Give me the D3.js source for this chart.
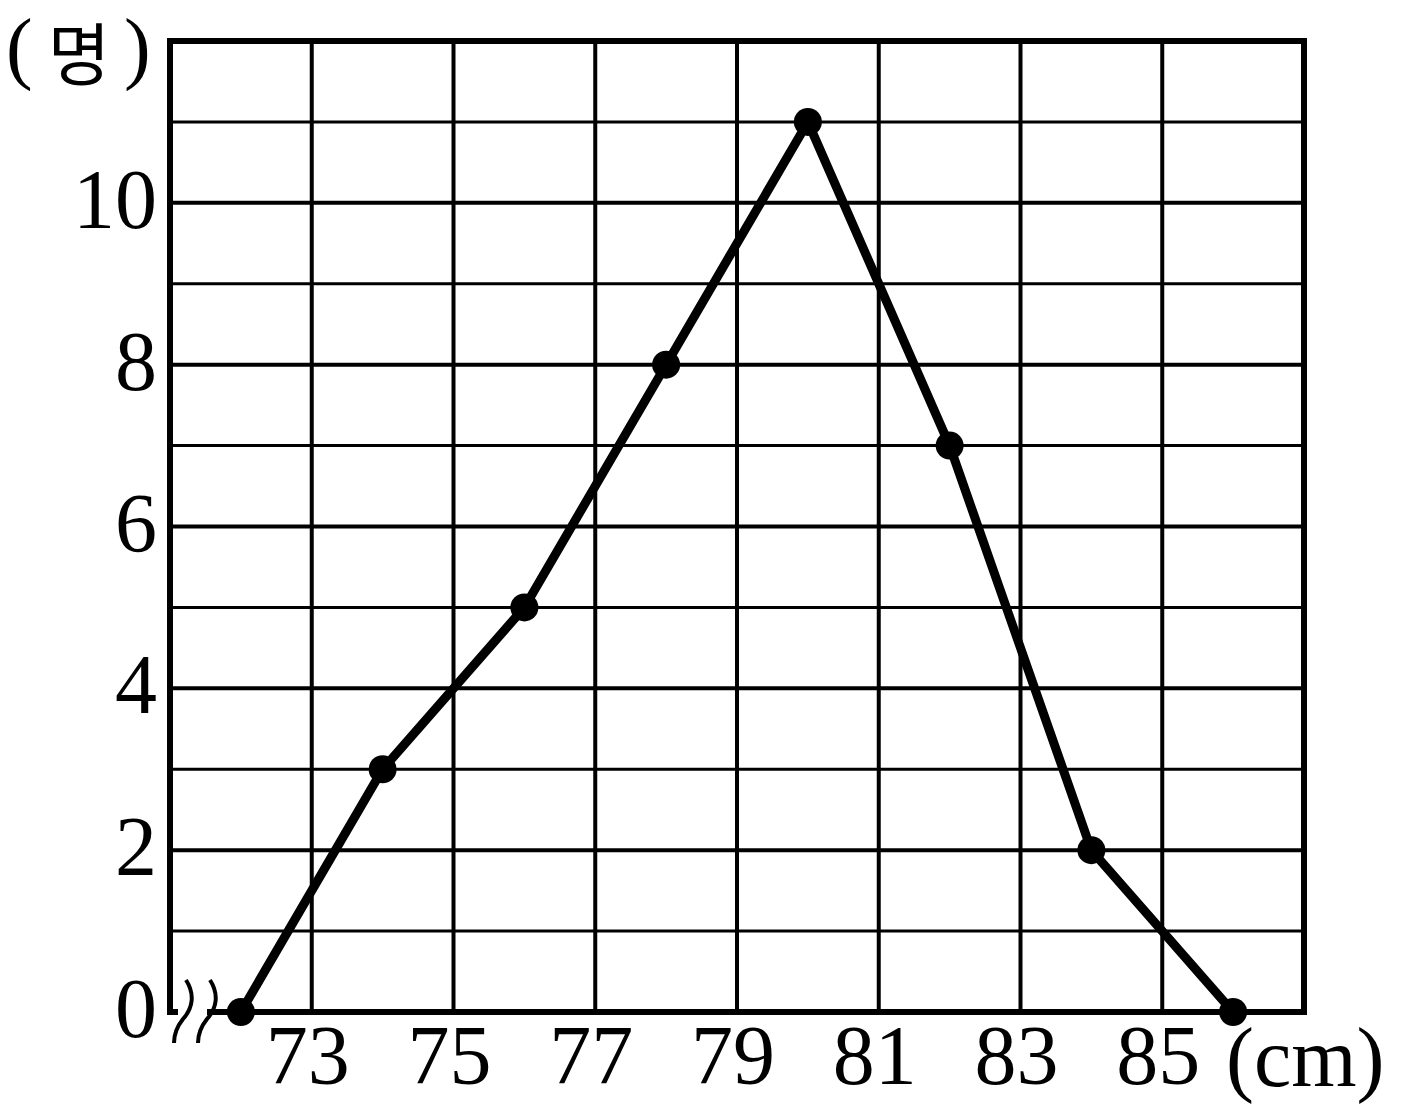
<!DOCTYPE html>
<html><head><meta charset="utf-8">
<script src="https://cdn.jsdelivr.net/npm/d3@7"></script>
<style>html,body{margin:0;padding:0;background:#fff;}</style>
</head><body>
<svg id="chart" width="1403" height="1117"></svg>
<script>
const heights = [72, 74, 76, 78, 80, 82, 84, 86];
const counts = [0, 3, 5, 8, 11, 7, 2, 0];
const xTickLabels = [73, 75, 77, 79, 81, 83, 85];
const yTickLabels = [0, 2, 4, 6, 8, 10];
const yGridValues = [1,2,3,4,5,6,7,8,9,10,11];

(function () {
const svg = d3.select("#chart");
const pL = 170, pR = 1304, pT = 41, pB = 1012;
const x = d3.scaleLinear().domain([71, 87]).range([pL, pR]);
const y = d3.scaleLinear().domain([0, 12]).range([pB, pT]);
const font = "'Liberation Serif', 'DejaVu Serif', serif";

// horizontal grid
svg.append("g").selectAll("line").data(yGridValues).join("line")
  .attr("x1", pL).attr("x2", pR)
  .attr("y1", d => y(d)).attr("y2", d => y(d))
  .attr("stroke", "#000").attr("stroke-width", d => d % 2 === 0 ? 4 : 3);
// vertical grid
svg.append("g").selectAll("line").data(xTickLabels).join("line")
  .attr("x1", d => x(d)).attr("x2", d => x(d))
  .attr("y1", pT).attr("y2", pB)
  .attr("stroke", "#000").attr("stroke-width", 4);
// frame
svg.append("rect").attr("x", pL).attr("y", pT).attr("width", pR - pL).attr("height", pB - pT)
  .attr("fill", "none").attr("stroke", "#000").attr("stroke-width", 6);
// break in bottom axis
svg.append("rect").attr("x", 178).attr("y", pB - 5).attr("width", 29).attr("height", 10).attr("fill", "#fff");
[0, 24].forEach(dx => {
  svg.append("path")
    .attr("d", `M ${186+dx} 980 C ${195+dx} 994, ${193+dx} 1008, ${183+dx} 1019 C ${175+dx} 1029, ${174+dx} 1036, ${174+dx} 1043`)
    .attr("fill", "none").attr("stroke", "#000").attr("stroke-width", 4);
});

// line
const line = d3.line().x((d, i) => x(heights[i])).y(d => y(d));
svg.append("path").datum(counts).attr("d", line)
  .attr("fill", "none").attr("stroke", "#000").attr("stroke-width", 9).attr("stroke-linejoin", "round");
svg.append("g").selectAll("circle").data(counts).join("circle")
  .attr("cx", (d, i) => x(heights[i])).attr("cy", d => y(d)).attr("r", 14).attr("fill", "#000");

// y labels
svg.append("g").selectAll("text").data(yTickLabels).join("text")
  .attr("x", 157).attr("y", d => y(d) + 25)
  .attr("text-anchor", "end").attr("font-family", font).attr("font-size", 84)
  .text(d => d);
// x labels
svg.append("g").selectAll("text").data(xTickLabels).join("text")
  .attr("x", d => x(d) - 4).attr("y", 1084)
  .attr("text-anchor", "middle").attr("font-family", font).attr("font-size", 84)
  .text(d => d);
// unit labels
svg.append("text").attr("x", 6).attr("y", 74).attr("font-family", font).attr("font-size", 80).text("(");
svg.append("text").attr("x", 79).attr("y", 80).attr("text-anchor", "middle")
  .attr("font-family", "'Noto Sans CJK KR'").attr("font-size", 68).text("명");
svg.append("text").attr("x", 124).attr("y", 74).attr("font-family", font).attr("font-size", 80).text(")");
svg.append("text").attr("x", 1226).attr("y", 1086).attr("font-family", font).attr("font-size", 84).text("(cm)");
})();
</script>
</body></html>
